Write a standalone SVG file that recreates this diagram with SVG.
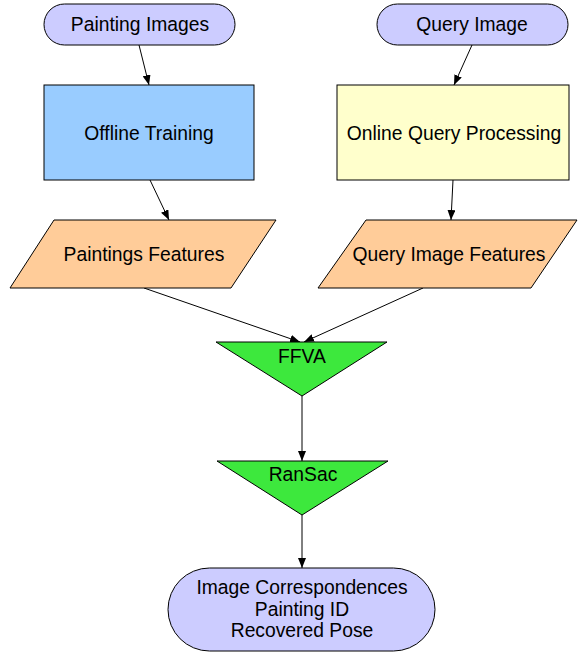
<svg xmlns="http://www.w3.org/2000/svg" width="578" height="656" viewBox="0 0 578 656">
<defs>
<marker id="ah" markerWidth="10" markerHeight="8" refX="10" refY="4" orient="auto" markerUnits="userSpaceOnUse">
<path d="M0,0 L10,4 L0,8 Z" fill="#000"/>
</marker>
</defs>
<style>
.t{font-family:"Liberation Sans",Arial,sans-serif;font-size:19.3px;fill:#000;text-anchor:middle}
.term{fill:#ccccff;stroke:#000;stroke-width:1}
.proc1{fill:#99ccff;stroke:#000;stroke-width:1}
.proc2{fill:#ffffcc;stroke:#000;stroke-width:1}
.data{fill:#ffcc99;stroke:#000;stroke-width:1}
.merge{fill:#3de83d;stroke:#000;stroke-width:1}
.c{stroke:#000;stroke-width:1;fill:none;marker-end:url(#ah)}
</style>
<rect width="578" height="656" fill="#fff"/>
<g id="connectors">
<line class="c" x1="139" y1="45" x2="149" y2="85"/>
<line class="c" x1="472" y1="45" x2="454" y2="85"/>
<line class="c" x1="150" y1="180" x2="169" y2="220"/>
<line class="c" x1="453" y1="180" x2="451" y2="220"/>
<line class="c" x1="144" y1="288" x2="300" y2="342"/>
<line class="c" x1="423" y1="288" x2="304" y2="342"/>
<line class="c" x1="302" y1="396" x2="302" y2="461"/>
<line class="c" x1="302" y1="515" x2="302" y2="568"/>
</g>
<g id="painting-images">
<rect class="term" x="44" y="4" width="191" height="41" rx="20.5" ry="20.5"/>
<text class="t" x="140" y="31">Painting Images</text>
</g>
<g id="query-image">
<rect class="term" x="377" y="4" width="191" height="41" rx="20.5" ry="20.5"/>
<text class="t" x="472" y="31">Query Image</text>
</g>
<g id="offline-training">
<rect class="proc1" x="44" y="85" width="210" height="95"/>
<text class="t" x="149" y="140">Offline Training</text>
</g>
<g id="online-query-processing">
<rect class="proc2" x="337" y="85" width="232" height="95"/>
<text class="t" x="454" y="140">Online Query Processing</text>
</g>
<g id="paintings-features">
<polygon class="data" points="54,220 276,220 231,288 10,288"/>
<text class="t" x="144" y="261">Paintings Features</text>
</g>
<g id="query-image-features">
<polygon class="data" points="366,220 577,220 531,288 318,288"/>
<text class="t" x="449" y="261">Query Image Features</text>
</g>
<g id="ffva">
<polygon class="merge" points="216,342 387,342 302,396"/>
<text class="t" x="302" y="363">FFVA</text>
</g>
<g id="ransac">
<polygon class="merge" points="217,461 388,461 302,515"/>
<text class="t" x="303" y="481">RanSac</text>
</g>
<g id="result">
<rect class="term" x="168" y="568" width="267" height="83" rx="41.5" ry="41.5"/>
<text class="t" x="302" y="594">Image Correspondences</text>
<text class="t" x="302" y="616">Painting ID</text>
<text class="t" x="302" y="637">Recovered Pose</text>
</g>
</svg>
